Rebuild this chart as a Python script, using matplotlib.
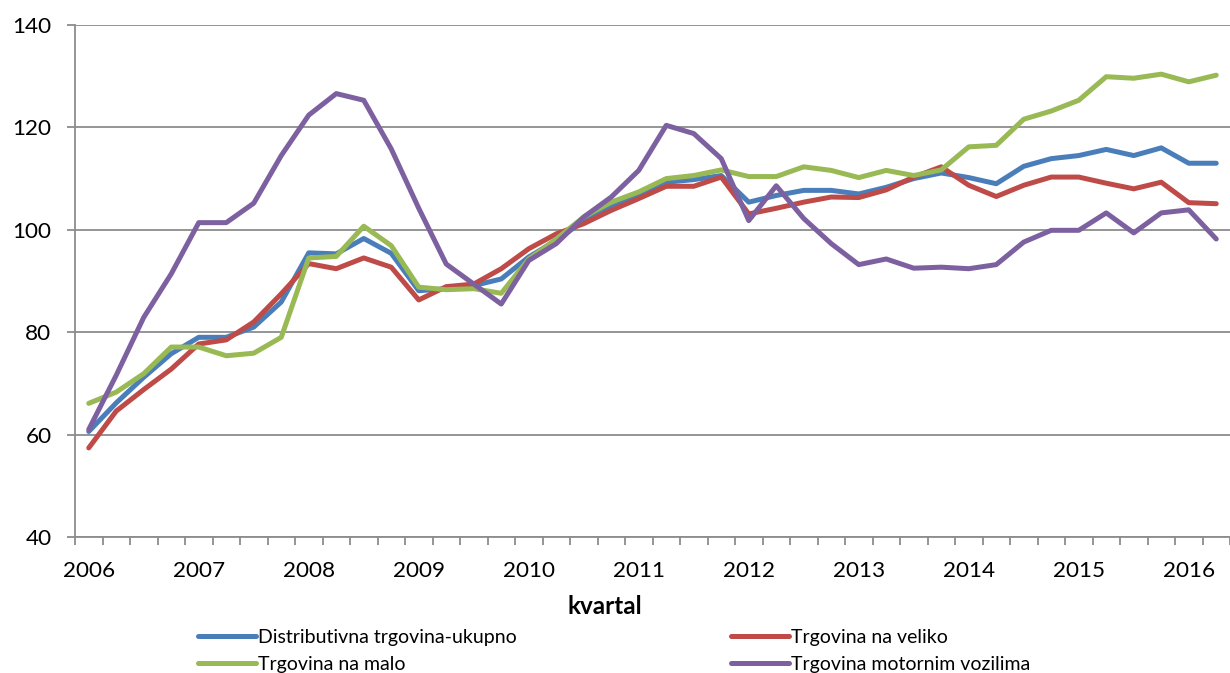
import matplotlib
matplotlib.use('Agg')
import matplotlib.pyplot as plt
from matplotlib.ticker import FixedLocator

plt.rcParams['font.family'] = ['Lato', 'DejaVu Sans']

# kvartali 2006Q1 - 2016Q2
godine = ['2006', '2007', '2008', '2009', '2010', '2011', '2012', '2013', '2014', '2015', '2016']

ukupno = [60.6, 66.2, 71.2, 75.8, 79.0, 79.0, 81.0, 85.9, 95.5, 95.3, 98.3, 95.4,
          88.1, 88.5, 89.1, 90.4, 94.7, 97.9, 101.8, 104.4, 106.7, 109.3, 109.8, 110.6,
          105.4, 106.7, 107.7, 107.7, 107.0, 108.3, 110.0, 111.1, 110.2, 109.0, 112.4, 113.9,
          114.5, 115.7, 114.5, 116.0, 113.0, 113.0]
veliko = [57.4, 64.6, 68.8, 72.8, 77.7, 78.5, 82.0, 87.5, 93.4, 92.4, 94.5, 92.7,
          86.3, 88.9, 89.4, 92.4, 96.3, 99.2, 101.2, 103.8, 106.1, 108.5, 108.5, 110.3,
          103.1, 104.2, 105.4, 106.4, 106.3, 107.8, 110.3, 112.3, 108.7, 106.5, 108.7, 110.3,
          110.3, 109.1, 108.0, 109.3, 105.3, 105.1]
malo = [66.1, 68.3, 71.9, 77.1, 77.1, 75.4, 75.9, 79.0, 94.5, 94.8, 100.7, 96.9,
        88.8, 88.3, 88.5, 87.6, 94.3, 98.2, 102.5, 105.4, 107.4, 110.0, 110.6, 111.7,
        110.4, 110.4, 112.3, 111.6, 110.2, 111.6, 110.6, 111.7, 116.2, 116.5, 121.6, 123.2,
        125.3, 129.9, 129.6, 130.4, 128.9, 130.2]
motorna = [61.0, 71.6, 82.9, 91.4, 101.4, 101.4, 105.2, 114.5, 122.4, 126.6, 125.3, 115.8,
           104.2, 93.3, 89.4, 85.5, 94.0, 97.3, 102.5, 106.4, 111.6, 120.4, 118.8, 113.9,
           101.8, 108.6, 102.2, 97.3, 93.2, 94.3, 92.5, 92.7, 92.4, 93.2, 97.6, 99.9,
           99.9, 103.3, 99.4, 103.3, 103.9, 98.2]

nazivi = ['Distributivna trgovina-ukupno', 'Trgovina na veliko',
          'Trgovina na malo', 'Trgovina motornim vozilima']
boje = ['#4a7ebb', '#be4b48', '#98b954', '#7d60a0']

fig = plt.figure(figsize=(12.3, 6.73), dpi=100)
ax = fig.add_axes([75/1230, 1-537/673, 1-75/1230, (537-25)/673])

x = list(range(len(ukupno)))
linije = []
for serija, naziv, boja in zip([ukupno, veliko, malo, motorna], nazivi, boje):
    l, = ax.plot(x, serija, color=boja, lw=3.6, label=naziv,
                 solid_joinstyle='round', solid_capstyle='round', zorder=3)
    linije.append(l)

ax.set_xlim(-0.5, len(ukupno) - 0.5)
ax.set_ylim(40, 140)
ax.set_yticks(range(40, 141, 20))
ax.yaxis.grid(True, color='#8c8c8c', lw=1.3)
ax.set_axisbelow(True)

ax.set_xticks(range(0, len(ukupno), 4))
ax.set_xticklabels(godine)
ax.xaxis.set_minor_locator(FixedLocator([i - 0.5 for i in range(len(ukupno) + 1)]))
ax.tick_params(axis='x', which='major', length=0, pad=17, labelsize=16.2)
ax.tick_params(axis='x', which='minor', length=6, width=1.3, color='#8c8c8c', direction='out')
ax.tick_params(axis='y', length=6, width=1.3, color='#8c8c8c', pad=11, labelsize=16.2)

for s in ['top', 'right']:
    ax.spines[s].set_visible(False)
for s in ['left', 'bottom']:
    ax.spines[s].set_color('#8c8c8c')
    ax.spines[s].set_linewidth(1.3)

fig.text(605/1230, 1-607/673, 'kvartal', ha='center', va='center',
         fontsize=17.5, fontweight='bold')

# redoslijed: kolone se pune odozgo prema dolje
red = [0, 2, 1, 3]
fig.legend([linije[i] for i in red], [nazivi[i] for i in red], ncol=2,
           loc='upper left', bbox_to_anchor=(198/1230, 1-629/673),
           frameon=False, fontsize=14, handlelength=3.0, handletextpad=0.1,
           columnspacing=11.0, labelspacing=0.5, borderaxespad=0, borderpad=0)

fig.savefig('out.png', dpi=100)
